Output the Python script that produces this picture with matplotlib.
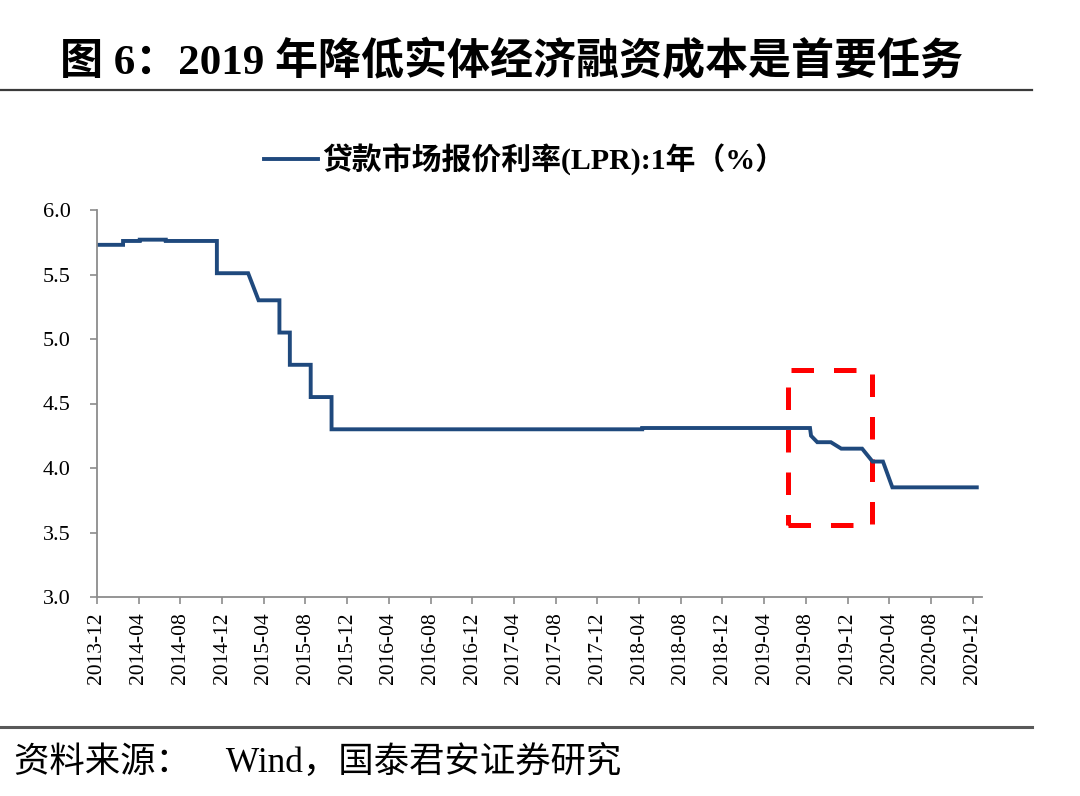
import numpy as np
import matplotlib
matplotlib.use("Agg")
import matplotlib.pyplot as plt
from matplotlib.lines import Line2D
from matplotlib.patches import Rectangle

# LPR 1Y, x = months since 2013-12
lpr_month = [0, 2.5, 2.5, 4.1, 4.1, 6.6, 6.6, 11.5, 11.5, 14.5, 15.5, 17.5, 17.5,
             18.5, 18.5, 20.5, 20.5, 22.5, 22.5, 52.3, 52.3, 68.4, 68.5, 69.1,
             70.4, 71.4, 73.4, 74.4, 75.4, 76.3, 84.4]
lpr_value = [5.73, 5.73, 5.76, 5.76, 5.77, 5.77, 5.76, 5.76, 5.51, 5.51, 5.30, 5.30, 5.05,
             5.05, 4.80, 4.80, 4.55, 4.55, 4.30, 4.30, 4.31, 4.31, 4.25, 4.20,
             4.20, 4.15, 4.15, 4.05, 4.05, 3.85, 3.85]

tick_labels = ["2013-12", "2014-04", "2014-08", "2014-12", "2015-04", "2015-08",
               "2015-12", "2016-04", "2016-08", "2016-12", "2017-04", "2017-08",
               "2017-12", "2018-04", "2018-08", "2018-12", "2019-04", "2019-08",
               "2019-12", "2020-04", "2020-08", "2020-12"]
y_ticks = [3.0, 3.5, 4.0, 4.5, 5.0, 5.5, 6.0]

# highlight box (months, rate)
box_x = [66.3, 74.3]
box_y = [3.56, 4.76]

title = "图 6：2019 年降低实体经济融资成本是首要任务"
series_name = "贷款市场报价利率(LPR):1年（%）"
source = "资料来源：    Wind，国泰君安证券研究"

serif_cjk = ["Liberation Serif", "Noto Sans CJK SC"]
plt.rcParams["font.family"] = serif_cjk

fig = plt.figure(figsize=(10.8, 7.96), dpi=100)
ax = fig.add_axes([97/1080, 1-597/796, (982-97)/1080, (597-210)/796])

ax.plot(lpr_month, lpr_value, color="#1F497D", lw=2.8, label=series_name,
        solid_joinstyle="miter")

ax.add_patch(Rectangle((box_x[0], box_y[0]), box_x[1]-box_x[0], box_y[1]-box_y[0],
                       fill=False, ec="#FF0000", lw=3.6, ls=(0, (4.5, 4)), clip_on=False))

ax.set_xlim(0, 84.9)
ax.set_ylim(3, 6)
ax.set_xticks(np.arange(0, 85, 4))
ax.set_xticklabels(tick_labels, rotation=90, fontsize=15.5)
ax.set_yticks(y_ticks)
ax.set_yticklabels([f"{v:.1f}" for v in y_ticks], fontsize=16)

for s in ["top", "right"]:
    ax.spines[s].set_visible(False)
for s in ["left", "bottom"]:
    ax.spines[s].set_color("#8c8c8c")
    ax.spines[s].set_linewidth(1.3)
ax.tick_params(axis="both", colors="#8c8c8c", length=5, width=1.2, labelcolor="#000000")
ax.tick_params(axis="y", pad=14)
ax.tick_params(axis="x", pad=6)

leg = ax.legend(loc="center", bbox_to_anchor=(525/1080, 1-160/796),
                bbox_transform=fig.transFigure, frameon=False, handlelength=1.8,
                handletextpad=0.15, prop={"family": serif_cjk, "weight": "bold", "size": 21.5})

fig.text(60/1080, 1-62/796, title, fontsize=31, fontweight="bold", va="center", ha="left")
fig.add_artist(Line2D([0, 1032/1080], [1-90/796]*2, transform=fig.transFigure,
                      color="#3a3a3a", lw=1.6))
fig.add_artist(Line2D([0, 1032/1080], [1-727/796]*2, transform=fig.transFigure,
                      color="#595959", lw=2.2))
fig.text(14/1080, 1-763/796, source, fontsize=25.5, va="center", ha="left")

fig.savefig("out.png", dpi=100)
